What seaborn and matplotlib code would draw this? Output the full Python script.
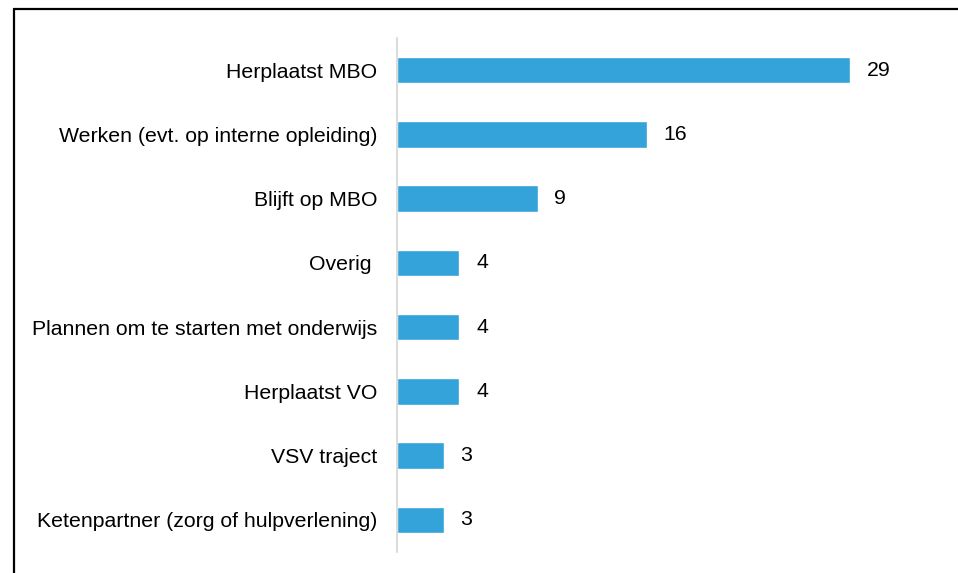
import matplotlib
matplotlib.use("Agg")
import matplotlib.pyplot as plt
import seaborn as sns
import pandas as pd
from matplotlib.lines import Line2D

categories = ["Herplaatst MBO", "Werken (evt. op interne opleiding)", "Blijft op MBO",
              "Overig ", "Plannen om te starten met onderwijs", "Herplaatst VO",
              "VSV traject", "Ketenpartner (zorg of hulpverlening)"]
counts = [29, 16, 9, 4, 4, 4, 3, 3]

W, H = 958, 573
sns.set_style("white")
plt.rcParams['font.family'] = ['Liberation Sans', 'DejaVu Sans']

df = pd.DataFrame({"cat": categories, "n": counts})

fig = plt.figure(figsize=(W / 100, H / 100), dpi=100)
# axes in pixels: left 397, top 38, bottom 552, width 500
ax = fig.add_axes([397 / W, 1 - 552 / H, 500 / W, (552 - 38) / H])
sns.barplot(data=df, x="n", y="cat", orient="h", color="#34a3da",
            width=0.41, saturation=1, ax=ax)
ax.set_xlim(0, 29 * 500 / 453)
ax.set_xlabel("")
ax.set_ylabel("")
ax.set_xticks([])
ax.tick_params(axis="y", length=0, pad=14, labelsize=15.3, labelcolor="black")
for s in ["top", "right", "bottom"]:
    ax.spines[s].set_visible(False)
ax.spines["left"].set_color("#d4d4d4")
ax.spines["left"].set_linewidth(1.2)
ax.bar_label(ax.containers[0], padding=12, fontsize=15.3, color="black")

# outer frame (only top and left visible in the crop)
fig.add_artist(Line2D([13.5 / W, 1], [1 - 8.5 / H, 1 - 8.5 / H], color="black", lw=1.6,
                      transform=fig.transFigure))
fig.add_artist(Line2D([13.5 / W, 13.5 / W], [0, 1 - 8.5 / H], color="black", lw=1.6,
                      transform=fig.transFigure))

fig.savefig("out.png", dpi=100)
